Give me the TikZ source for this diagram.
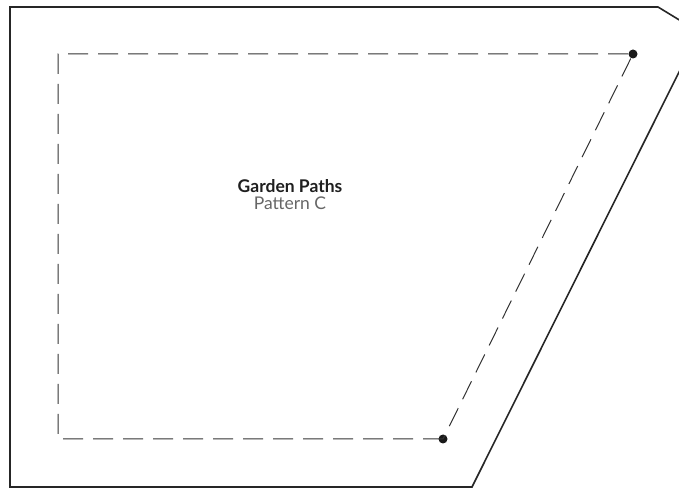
\documentclass[tikz,border=0pt]{standalone}
\usepackage{fontspec}
\setmainfont{Lato}
\begin{document}
\begin{tikzpicture}[x=1pt,y=1pt,
  outline/.style={draw=black!85, line width=1.6pt, line join=miter},
  pathline/.style={draw=black!80, line width=1pt, dash pattern=on 20pt off 10pt},
  pathdot/.style={circle, fill=black!90, inner sep=0pt, minimum size=9pt},
  titletext/.style={align=center, font=\fontsize{17.5}{18}\selectfont, text=black!88}]
\useasboundingbox (0,0) rectangle (679,489);
\clip (0,0) rectangle (679,489);
\draw[outline] (10,482) -- (658,482) -- (699,457) -- (472,2) -- (10,2) -- cycle;
\coordinate (tl) at (58,435);
\coordinate (bl) at (58,50);
\node[pathdot] (d1) at (633,435) {};
\node[pathdot] (d2) at (443,50) {};
\draw[pathline] (d2.center) -- (bl) -- (tl) -- (d1.center) -- (d2.center);
\node[titletext] (label) at (290,294) {\textbf{Garden Paths}\\[-1pt]{\color{black!60}Pattern C}};
\end{tikzpicture}
\end{document}
